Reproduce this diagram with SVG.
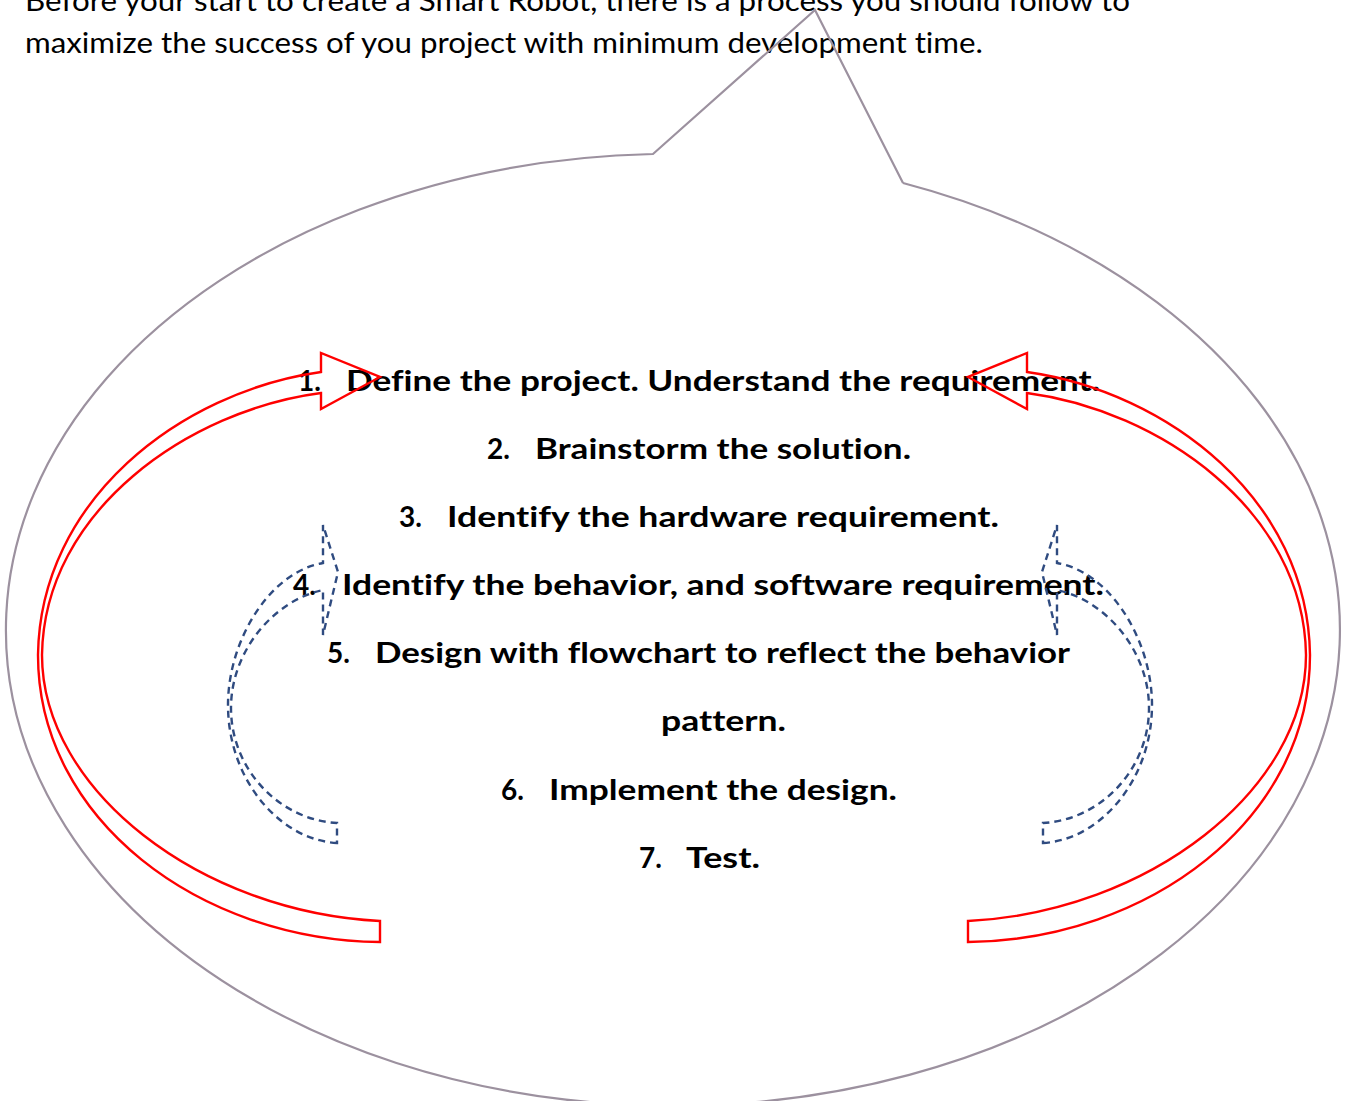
<svg xmlns="http://www.w3.org/2000/svg" xmlns:xlink="http://www.w3.org/1999/xlink" width="1352" height="1101" viewBox="0 0 1352 1101">
<style>
.intro{font-family:Lato,"Liberation Sans",sans-serif;font-size:28px;fill:#000;font-variant-ligatures:none}
.item{font-family:Lato,"Liberation Sans",sans-serif;font-size:28px;font-weight:bold;fill:#000;font-variant-ligatures:none}
.red{fill:none;stroke:#FF0000;stroke-width:2.4;stroke-linejoin:miter}
.blue{fill:none;stroke:#2F4B80;stroke-width:2.4;stroke-dasharray:7 5}
.callout{fill:none;stroke:#9C919F;stroke-width:2.2}
</style>
<defs>
<path id="redArrow" d="M380,942 C200,940 38,820 38,655 C40,500 180,392 321,372 L321,353 L380,377 L321,409 L321,393 C190,410 44,510 42,655 C42,790 200,912 380,921 Z"/>
<path id="blueArrow" d="M337,843 C280,840 228,780 228,705 C228,640 270,572 323,563 L323,525 L338,572 L323,635 L323,590 C275,600 231,650 231,708 C231,770 280,820 337,823 Z"/>
</defs>
<g id="intro">
<text class="intro" x="25" y="11" textLength="1105" lengthAdjust="spacingAndGlyphs">Before your start to create a Smart Robot,  there is a process you should follow to</text>
<text class="intro" x="25" y="53" textLength="958" lengthAdjust="spacingAndGlyphs">maximize the success of you project with minimum development time.</text>
</g>
<g id="callout">
<path class="callout" d="M903,183 L815,10 L653,154 A667,476 0 1 0 903,183"/>
</g>
<g id="step1"><text class="item" x="298" y="391">1.</text><text class="item" x="346" y="391" textLength="754" lengthAdjust="spacingAndGlyphs">Define the project. Understand the requirement.</text></g>
<g id="step2"><text class="item" x="487" y="459">2.</text><text class="item" x="535" y="459" textLength="376" lengthAdjust="spacingAndGlyphs">Brainstorm the solution.</text></g>
<g id="step3"><text class="item" x="399" y="527">3.</text><text class="item" x="447" y="527" textLength="552" lengthAdjust="spacingAndGlyphs">Identify the hardware requirement.</text></g>
<g id="step4"><text class="item" x="293" y="595">4.</text><text class="item" x="342" y="595" textLength="762" lengthAdjust="spacingAndGlyphs">Identify the behavior, and software requirement.</text></g>
<g id="step5"><text class="item" x="327" y="663">5.</text><text class="item" x="375" y="663" textLength="695" lengthAdjust="spacingAndGlyphs">Design with flowchart to reflect the behavior</text><text class="item" x="661" y="731" textLength="125" lengthAdjust="spacingAndGlyphs">pattern.</text></g>
<g id="step6"><text class="item" x="501" y="800">6.</text><text class="item" x="549" y="800" textLength="348" lengthAdjust="spacingAndGlyphs">Implement the design.</text></g>
<g id="step7"><text class="item" x="639" y="868">7.</text><text class="item" x="686" y="868" textLength="74" lengthAdjust="spacingAndGlyphs">Test.</text></g>
<g id="connectors">
<use xlink:href="#redArrow" href="#redArrow" class="red"/>
<use xlink:href="#redArrow" href="#redArrow" class="red" transform="translate(1348,0) scale(-1,1)"/>
<use xlink:href="#blueArrow" href="#blueArrow" class="blue"/>
<use xlink:href="#blueArrow" href="#blueArrow" class="blue" transform="translate(1380,0) scale(-1,1)"/>
</g>
</svg>
